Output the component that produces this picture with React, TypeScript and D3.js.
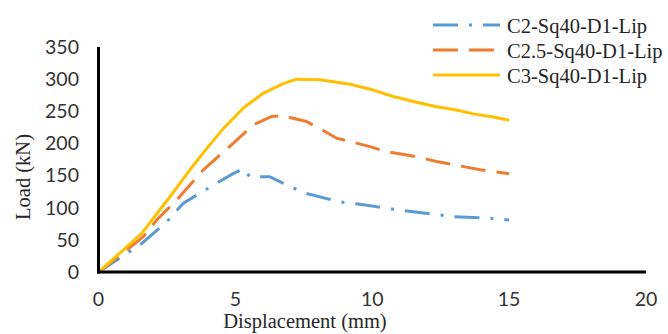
import React, { useEffect, useRef } from 'react';
import { scaleLinear, select, line } from 'd3';

// series names
const seriesNames = ['C2-Sq40-D1-Lip', 'C2.5-Sq40-D1-Lip', 'C3-Sq40-D1-Lip'];

// displacement (mm) / load (kN)
const c2Disp = [0, 1.03, 1.52, 2.49, 3.1, 4.19, 4.92, 5.29, 5.53, 6.26, 6.99, 7.6, 8.82, 9.43, 10.53, 11.26, 12.23, 12.96, 14.18, 15.0];
const c2Load = [0, 29, 42, 78, 107, 135, 153, 161, 148, 148, 133, 122, 109, 106, 99, 95, 90, 86, 84, 81];

const c25Disp = [0, 1.03, 1.64, 2.13, 2.86, 3.83, 4.92, 5.65, 6.33, 6.75, 7.6, 8.09, 8.7, 9.19, 9.92, 10.53, 11.26, 11.75, 12.35, 13.08, 13.94, 15.0];
const c25Load = [0, 34, 55, 81, 112, 159, 200, 229, 242, 243, 234, 223, 208, 203, 195, 187, 182, 178, 172, 166, 159, 153];

const c3Disp = [0, 0.9, 1.58, 2.61, 3.34, 3.95, 4.56, 5.29, 6.02, 6.75, 7.24, 8.09, 9.19, 10.04, 10.77, 11.62, 12.35, 13.08, 13.69, 14.42, 15.0];
const c3Load = [0, 34, 60, 117, 159, 192, 223, 255, 278, 293, 300, 299, 292, 283, 273, 264, 257, 252, 246, 241, 236];

const xTicks = [0, 5, 10, 15, 20];
const yTicks = [0, 50, 100, 150, 200, 250, 300, 350];

const colors = ['#5B9BD5', '#ED7D31', '#FFC000'];
const dashes = ['25,11,3,11', '25,11', null];

const width = 668;
const height = 334;

const App = () => {
    const svgRef = useRef<SVGSVGElement>(null);

    useEffect(() => {
        const svg = select(svgRef.current);
        svg.selectAll('*').remove();

        const xScale = scaleLinear().domain([0, 20]).range([98.5, 646]);
        const yScale = scaleLinear().domain([0, 350]).range([272, 47]);

        const serif = '"Liberation Serif", "Times New Roman", serif';
        const sans = 'Lato, "Liberation Sans", sans-serif';

        const data = [
            c2Disp.map((d, i) => [d, c2Load[i]]),
            c25Disp.map((d, i) => [d, c25Load[i]]),
            c3Disp.map((d, i) => [d, c3Load[i]]),
        ];

        const path = line<number[]>()
            .x(d => xScale(d[0]))
            .y(d => yScale(d[1]));

        // series, yellow on top
        svg.selectAll('.series')
            .data(data)
            .join('path')
            .attr('class', 'series')
            .attr('d', d => path(d))
            .attr('fill', 'none')
            .attr('stroke', (d, i) => colors[i])
            .attr('stroke-width', 3)
            .attr('stroke-dasharray', (d, i) => dashes[i])
            .attr('stroke-linejoin', 'round');

        // axes
        svg.append('line')
            .attr('x1', xScale(0)).attr('x2', xScale(0))
            .attr('y1', yScale(350)).attr('y2', yScale(0) + 1.5)
            .attr('stroke', '#000').attr('stroke-width', 3);
        svg.append('line')
            .attr('x1', xScale(0) - 1.5).attr('x2', xScale(20))
            .attr('y1', yScale(0)).attr('y2', yScale(0))
            .attr('stroke', '#000').attr('stroke-width', 3);

        svg.selectAll('.ytick')
            .data(yTicks)
            .join('text')
            .attr('class', 'ytick')
            .attr('x', 79)
            .attr('y', d => yScale(d))
            .attr('dy', '0.35em')
            .attr('text-anchor', 'end')
            .attr('font-family', sans)
            .attr('font-size', 19.5)
            .attr('fill', '#333')
            .text(d => d);

        svg.selectAll('.xtick')
            .data(xTicks)
            .join('text')
            .attr('class', 'xtick')
            .attr('x', d => xScale(d))
            .attr('y', 306)
            .attr('text-anchor', 'middle')
            .attr('font-family', sans)
            .attr('font-size', 19.5)
            .attr('fill', '#333')
            .text(d => d);

        svg.append('text')
            .attr('x', 305)
            .attr('y', 328)
            .attr('text-anchor', 'middle')
            .attr('font-family', serif)
            .attr('font-size', 20.5)
            .attr('fill', '#262626')
            .text('Displacement (mm)');

        svg.append('text')
            .attr('transform', 'translate(30,177) rotate(-90)')
            .attr('text-anchor', 'middle')
            .attr('font-family', serif)
            .attr('font-size', 20.5)
            .attr('fill', '#262626')
            .text('Load (kN)');

        // legend
        const legend = svg.selectAll('.legend')
            .data(seriesNames)
            .join('g')
            .attr('class', 'legend')
            .attr('transform', (d, i) => `translate(433,${25 + i * 25})`);

        legend.append('line')
            .attr('x1', 0).attr('x2', 67)
            .attr('stroke', (d, i) => colors[i])
            .attr('stroke-width', 3)
            .attr('stroke-dasharray', (d, i) => dashes[i]);

        legend.append('text')
            .attr('x', 74)
            .attr('y', 7.5)
            .attr('font-family', serif)
            .attr('font-size', 20.5)
            .attr('fill', '#262626')
            .text(d => d);
    }, []);

    return (
        <svg ref={svgRef} width={width} height={height}
            style={{ position: 'absolute', left: 0, top: 0, background: '#fff' }}>
        </svg>
    );
};

export default App;
